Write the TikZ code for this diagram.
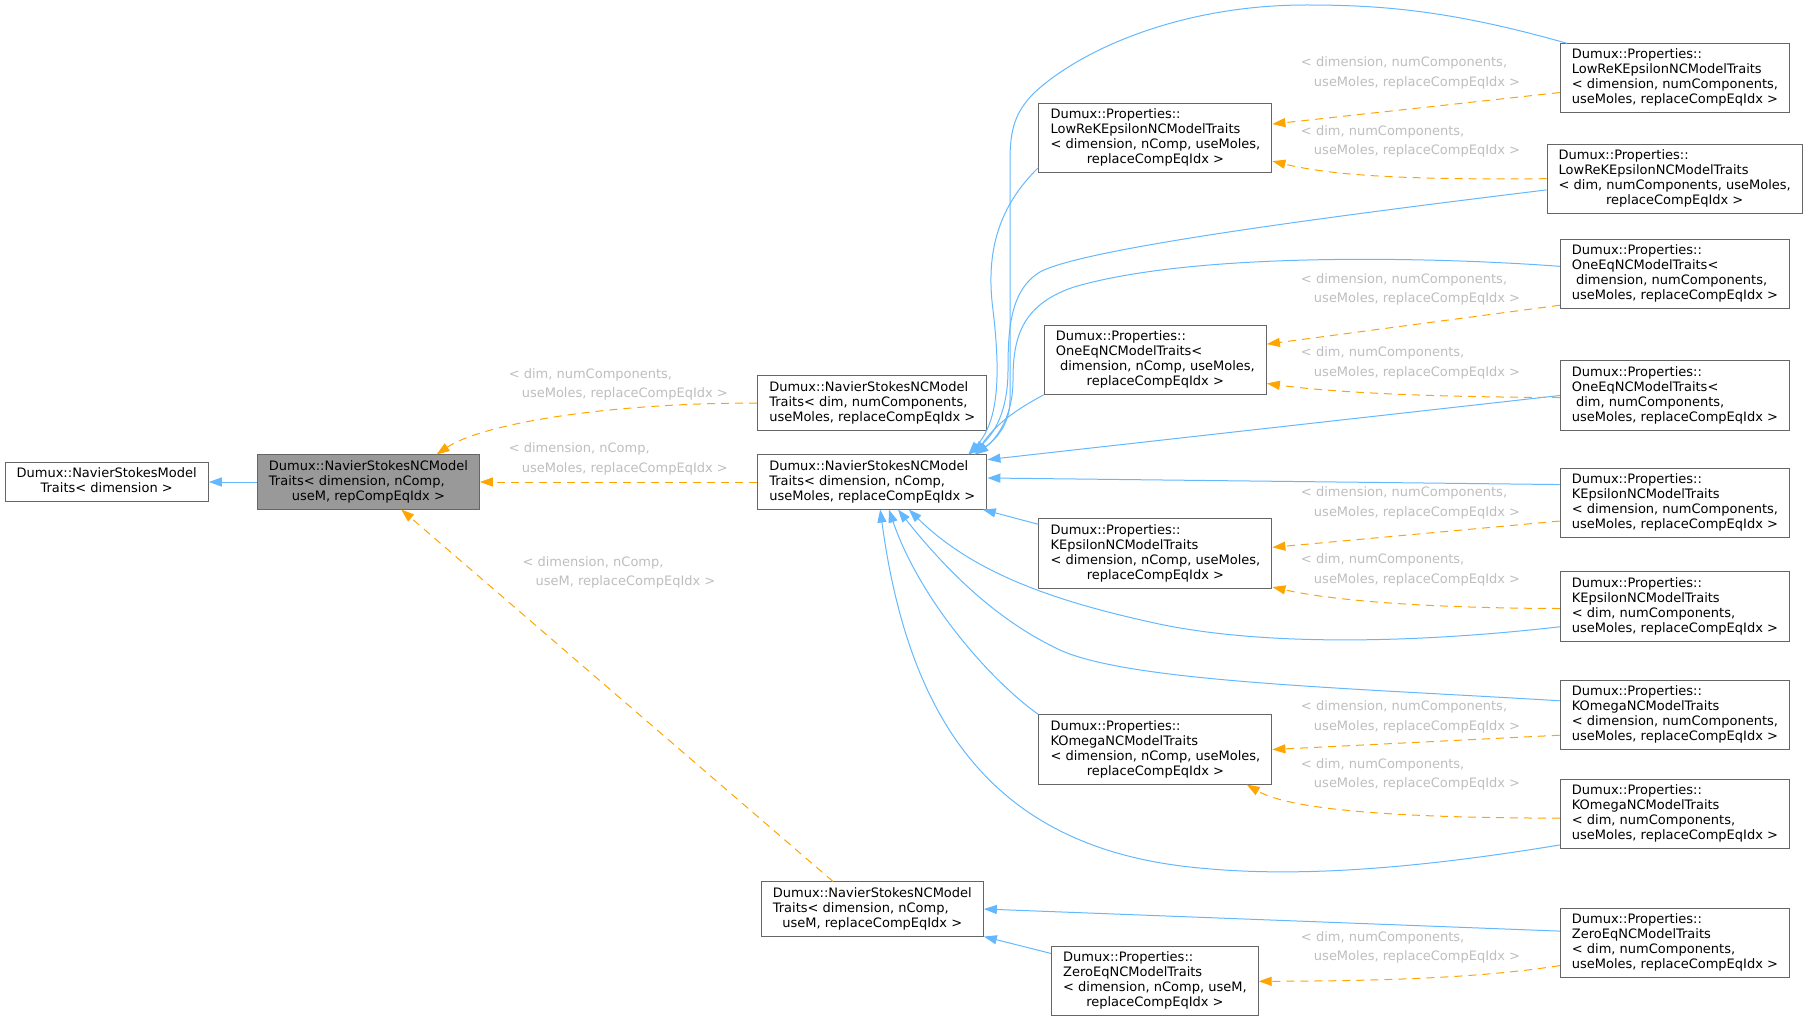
\documentclass[tikz,border=0pt]{standalone}
\usepackage{fontspec}
\setmainfont{DejaVu Sans}
\usetikzlibrary{arrows.meta}

\definecolor{edgeblue}{HTML}{63B8FF}
\definecolor{edgeorange}{HTML}{FFA500}
\definecolor{boxline}{HTML}{666666}
\definecolor{boxfill}{HTML}{999999}
\definecolor{labelgrey}{HTML}{BEBEBE}

% class box text: left lines, last line centred
\newcommand{\cls}[2]{\begin{tabular}{@{}l@{}}#1\\\multicolumn{1}{@{}c@{}}{#2}\end{tabular}}

\begin{document}
\begin{tikzpicture}[
    x=0.75pt, y=-0.75pt,
    cls/.style={
        rectangle, draw=boxline, line width=0.75pt, fill=white,
        inner xsep=8.7pt, inner ysep=3.4pt,
        font=\fontsize{9.75}{11.25}\selectfont,
    },
    base/.style={cls, fill=boxfill},
    inh/.style={
        draw=edgeblue, line width=0.75pt,
        -{Triangle[length=9.75pt, width=6.8pt]},
    },
    tpl/.style={
        draw=edgeorange, line width=0.75pt, dash pattern=on 6pt off 4.5pt,
        -{Triangle[length=9.75pt, width=6.8pt]},
    },
    arg/.style={
        anchor=west, inner sep=0pt, text=labelgrey, align=left,
        font=\fontsize{9.75}{14.7}\selectfont,
    },
]
\useasboundingbox (0,0) rectangle (1808,1020);

% --- Base classes ---
\node[cls] (A) at (106.7,482) {\cls{Dumux::NavierStokesModel}{Traits< dimension >}};
\node[base] (G) at (368.4,482) {\cls{Dumux::NavierStokesNCModel\\Traits< dimension, nComp,}{useM, repCompEqIdx >}};

% --- NavierStokesNCModelTraits instances ---
\node[cls] (B1) at (872.3,403) {\cls{Dumux::NavierStokesNCModel\\Traits< dim, numComponents,}{useMoles, replaceCompEqIdx >}};
\node[cls] (B2) at (872.3,482) {\cls{Dumux::NavierStokesNCModel\\Traits< dimension, nComp,}{useMoles, replaceCompEqIdx >}};
\node[cls] (B3) at (872.3,909) {\cls{Dumux::NavierStokesNCModel\\Traits< dimension, nComp,}{useM, replaceCompEqIdx >}};

% --- Middle column ---
\node[cls] (L) at (1155.4,138.4) {\cls{Dumux::Properties::\\LowReKEpsilonNCModelTraits\\< dimension, nComp, useMoles,}{replaceCompEqIdx >}};
\node[cls] (O) at (1155.3,359.8) {\cls{Dumux::Properties::\\OneEqNCModelTraits<\\\ dimension, nComp, useMoles,}{replaceCompEqIdx >}};
\node[cls] (K) at (1155.4,553.5) {\cls{Dumux::Properties::\\KEpsilonNCModelTraits\\< dimension, nComp, useMoles,}{replaceCompEqIdx >}};
\node[cls] (W) at (1155.4,749.5) {\cls{Dumux::Properties::\\KOmegaNCModelTraits\\< dimension, nComp, useMoles,}{replaceCompEqIdx >}};
\node[cls] (Z) at (1154.9,981.3) {\cls{Dumux::Properties::\\ZeroEqNCModelTraits\\< dimension, nComp, useM,}{replaceCompEqIdx >}};

% --- Right column ---
\node[cls] (L1) at (1674.9,78.4) {\cls{Dumux::Properties::\\LowReKEpsilonNCModelTraits\\< dimension, numComponents,}{useMoles, replaceCompEqIdx >}};
\node[cls] (L2) at (1674.7,178.7) {\cls{Dumux::Properties::\\LowReKEpsilonNCModelTraits\\< dim, numComponents, useMoles,}{replaceCompEqIdx >}};
\node[cls] (O1) at (1674.9,274.4) {\cls{Dumux::Properties::\\OneEqNCModelTraits<\\\ dimension, numComponents,}{useMoles, replaceCompEqIdx >}};
\node[cls] (O2) at (1674.9,395.5) {\cls{Dumux::Properties::\\OneEqNCModelTraits<\\\ dim, numComponents,}{useMoles, replaceCompEqIdx >}};
\node[cls] (K1) at (1674.9,502.8) {\cls{Dumux::Properties::\\KEpsilonNCModelTraits\\< dimension, numComponents,}{useMoles, replaceCompEqIdx >}};
\node[cls] (K2) at (1674.9,606.5) {\cls{Dumux::Properties::\\KEpsilonNCModelTraits\\< dim, numComponents,}{useMoles, replaceCompEqIdx >}};
\node[cls] (W1) at (1674.9,714.9) {\cls{Dumux::Properties::\\KOmegaNCModelTraits\\< dimension, numComponents,}{useMoles, replaceCompEqIdx >}};
\node[cls] (W2) at (1674.9,814.1) {\cls{Dumux::Properties::\\KOmegaNCModelTraits\\< dim, numComponents,}{useMoles, replaceCompEqIdx >}};
\node[cls] (Z1) at (1674.9,943.2) {\cls{Dumux::Properties::\\ZeroEqNCModelTraits\\< dim, numComponents,}{useMoles, replaceCompEqIdx >}};

% --- Template arguments ---
\node[arg] (a1) at (508.5,384.6) {< dim, numComponents,\\\hspace*{1em}useMoles, replaceCompEqIdx >};
\node[arg] (a2) at (508.5,458.9) {< dimension, nComp,\\\hspace*{1em}useMoles, replaceCompEqIdx >};
\node[arg] (a3) at (522.3,572.5) {< dimension, nComp,\\\hspace*{1em}useM, replaceCompEqIdx >};
\node[arg] (a4) at (1300.7,73.2) {< dimension, numComponents,\\\hspace*{1em}useMoles, replaceCompEqIdx >};
\node[arg] (a5) at (1300.7,141.3) {< dim, numComponents,\\\hspace*{1em}useMoles, replaceCompEqIdx >};
\node[arg] (a6) at (1300.7,289.4) {< dimension, numComponents,\\\hspace*{1em}useMoles, replaceCompEqIdx >};
\node[arg] (a7) at (1300.7,362.7) {< dim, numComponents,\\\hspace*{1em}useMoles, replaceCompEqIdx >};
\node[arg] (a8) at (1300.7,502.8) {< dimension, numComponents,\\\hspace*{1em}useMoles, replaceCompEqIdx >};
\node[arg] (a9) at (1300.7,570.2) {< dim, numComponents,\\\hspace*{1em}useMoles, replaceCompEqIdx >};
\node[arg] (a10) at (1300.7,716.7) {< dimension, numComponents,\\\hspace*{1em}useMoles, replaceCompEqIdx >};
\node[arg] (a11) at (1300.7,774.3) {< dim, numComponents,\\\hspace*{1em}useMoles, replaceCompEqIdx >};
\node[arg] (a12) at (1300.7,947.3) {< dim, numComponents,\\\hspace*{1em}useMoles, replaceCompEqIdx >};

% --- Inheritance (blue) ---
\draw[inh] (G.west) -- (A.east);
\draw[inh] (L1.162) .. controls (1450,10) and (1380,5) .. (1306,5)
    .. controls (1180,5) and (1080,50) .. (1034,93)
    .. controls (1015,112) and (1010,130) .. (1010,160)
    -- (1010,400) .. controls (1010,425) and (995,440) .. (B2.15);
\draw[inh] (L.194) .. controls (1000,205) and (985,250) .. (993,310)
    .. controls (1000,370) and (1000,420) .. (B2.16);
\draw[inh] (L2.185) .. controls (1300,220) and (1080,250) .. (1040,272)
    .. controls (1010,290) and (1008,330) .. (1008,370)
    .. controls (1008,410) and (995,435) .. (B2.16);
\draw[inh] (O1.176) .. controls (1450,258) and (1200,250) .. (1074,287)
    .. controls (1020,305) and (1013,340) .. (1013,380)
    .. controls (1013,415) and (998,438) .. (B2.15);
\draw[inh] (O.south west) .. controls (1015,410) and (995,425) .. (B2.15);
\draw[inh] (O2.west) -- (B2.11);
\draw[inh] (K1.171) -- (B2.2);
\draw[inh] (K.166) -- (B2.-14);
\draw[inh] (K2.190) .. controls (1400,645) and (1250,645) .. (1150,622)
    .. controls (1060,602) and (975,575) .. (B2.-37);
\draw[inh] (W1.173) .. controls (1350,688) and (1130,682) .. (1060,650)
    .. controls (1000,622) and (950,575) .. (B2.-47);
\draw[inh] (W.north west) .. controls (990,680) and (920,600) .. (B2.-59);
\draw[inh] (W2.195) .. controls (1420,868) and (1300,878) .. (1200,868)
    .. controls (1000,850) and (910,730) .. (B2.-74);
\draw[inh] (Z1.174) -- (B3.east);
\draw[inh] (Z.165) -- (B3.south east);

% --- Template instantiation (orange) ---
\draw[tpl] (B1.west) .. controls (600,403) and (480,425) .. (G.22);
\draw[tpl] (B2.west) -- (G.east);
\draw[tpl] (B3.145) -- (G.-40);
\draw[tpl] (L1.187) -- (L.7);
\draw[tpl] (L2.west) .. controls (1400,180) and (1330,175) .. (L.-11);
\draw[tpl] (O1.195) -- (O.8);
\draw[tpl] (O2.181) .. controls (1420,397) and (1330,392) .. (O.-12);
\draw[tpl] (K1.189) -- (K.3);
\draw[tpl] (K2.181) .. controls (1420,608) and (1330,600) .. (K.-16);
\draw[tpl] (W1.190) -- (W.east);
\draw[tpl] (W2.182) .. controls (1400,818) and (1290,810) .. (W.-21);
\draw[tpl] (Z1.191) .. controls (1480,978) and (1380,981) .. (Z.east);

\end{tikzpicture}
\end{document}
